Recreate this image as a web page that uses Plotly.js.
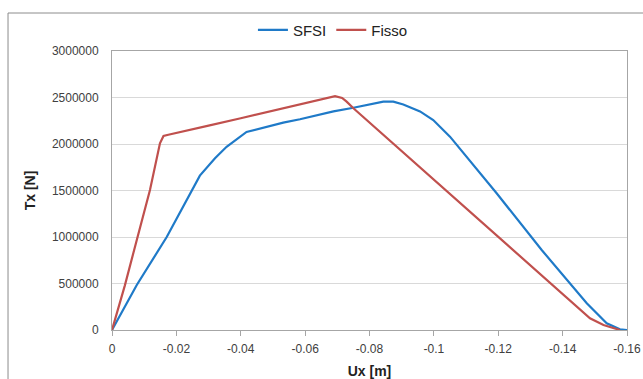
<!DOCTYPE html>
<html>
<head>
<meta charset="utf-8">
<script src="https://cdn.plot.ly/plotly-3.0.1.min.js"></script>
<style>html,body{margin:0;padding:0;background:#fff;}#chart{width:643px;height:379px;}</style>
</head>
<body>
<div id="chart"></div>
<script>
// SFSI series
const sfsiX = [0, -0.0077, -0.017, -0.0273, -0.032, -0.0356, -0.0418, -0.045, -0.0532, -0.0584, -0.0688, -0.075, -0.08, -0.0843, -0.0874, -0.0905, -0.0957, -0.0998, -0.105, -0.11, -0.1195, -0.1335, -0.1423, -0.1475, -0.1537, -0.1578, -0.16];
const sfsiY = [0, 484000, 1000000, 1660000, 1846000, 1970000, 2130000, 2160000, 2230000, 2266000, 2350000, 2390000, 2426000, 2455000, 2455000, 2425000, 2350000, 2258000, 2079000, 1869000, 1470000, 860000, 502000, 287000, 72000, 8000, 0];
// Fisso series
const fissoX = [0, -0.004, -0.0077, -0.0118, -0.0149, -0.016, -0.0175, -0.02, -0.03, -0.04, -0.05, -0.06, -0.066, -0.0693, -0.0715, -0.0729, -0.075, -0.08, -0.09, -0.1, -0.11, -0.12, -0.13, -0.14, -0.1485, -0.1527, -0.1578];
const fissoY = [0, 480000, 968000, 1505000, 2008000, 2086000, 2100000, 2118000, 2198000, 2277000, 2357000, 2436000, 2484000, 2515000, 2495000, 2455000, 2384000, 2230000, 1924000, 1617000, 1310000, 1004000, 697000, 390000, 126000, 54000, 0];
// tick labels
const xTickVals = [0, -0.02, -0.04, -0.06, -0.08, -0.1, -0.12, -0.14, -0.16];
const xTickText = ["0", "-0.02", "-0.04", "-0.06", "-0.08", "-0.1", "-0.12", "-0.14", "-0.16"];
const yTickVals = [0, 500000, 1000000, 1500000, 2000000, 2500000, 3000000];
const yTickText = ["0", "500000", "1000000", "1500000", "2000000", "2500000", "3000000"];

const traces = [
  {x: sfsiX, y: sfsiY, name: "SFSI", mode: "lines", type: "scatter", line: {color: "#1f7ac8", width: 2.2}},
  {x: fissoX, y: fissoY, name: "Fisso", mode: "lines", type: "scatter", line: {color: "#c0504d", width: 2.2}}
];

const layout = {
  width: 643, height: 379,
  margin: {l: 112, r: 16, t: 51, b: 49},
  paper_bgcolor: "#fff", plot_bgcolor: "#fff",
  font: {family: "Liberation Sans, Arial, sans-serif", size: 12, color: "#404040"},
  showlegend: true,
  legend: {orientation: "h", x: 0.429, xanchor: "center", y: 1.075, yanchor: "middle",
           font: {size: 15, color: "#222"}, traceorder: "normal", itemwidth: 30, tracegroupgap: 0},
  xaxis: {
    range: [0, -0.16], tickvals: xTickVals, ticktext: xTickText,
    showgrid: false, zeroline: false, showline: true, linecolor: "#a6a6a6", linewidth: 1, mirror: true,
    ticks: "outside", ticklen: 5, tickcolor: "#a6a6a6", ticklabelstandoff: 3,
    tickfont: {size: 12, color: "#404040"},
    title: {text: "<b>Ux [m]</b>", font: {size: 14, color: "#222"}, standoff: 10}
  },
  yaxis: {
    range: [0, 3000000], tickvals: yTickVals, ticktext: yTickText,
    showgrid: true, gridcolor: "#d9d9d9", zeroline: false, showline: true, linecolor: "#a6a6a6", linewidth: 1, mirror: true,
    ticks: "", ticklabelstandoff: 10, tickfont: {size: 12, color: "#404040"},
    title: {text: "<b>Tx [N]</b>", font: {size: 14, color: "#222"}, standoff: 12}
  },
  shapes: [
    {type: "rect", xref: "paper", yref: "paper", x0: -0.2019, x1: 1.2, y0: -0.4, y1: 1.1362,
     line: {color: "#8c8c8c", width: 1}, fillcolor: "rgba(0,0,0,0)", layer: "below"}
  ]
};

Plotly.newPlot("chart", traces, layout, {displayModeBar: false, staticPlot: true});
</script>
</body>
</html>
